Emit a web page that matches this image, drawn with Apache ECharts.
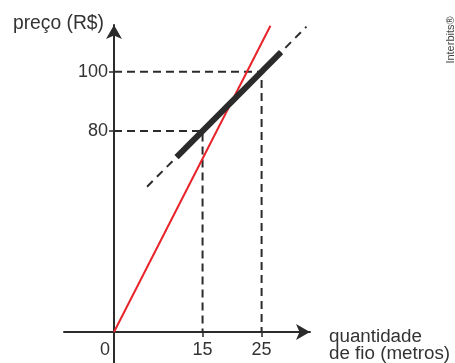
<!DOCTYPE html>
<html><head><meta charset="utf-8">
<script src="https://cdn.jsdelivr.net/npm/echarts@6/dist/echarts.min.js"></script>
<style>html,body{margin:0;padding:0;background:#fff}#c{width:455px;height:363px}</style>
</head><body><div id="c"></div>
<script>
// tick / label values
const xTickValues = [15, 25];
const xLabelValues = [0, 15, 25];
const yTickValues = [80, 100];
// series (quantidade, preço)
const redLine = [[0, 0], [26.5, 115.5]];
const blackSolid = [[10.6, 71.2], [28.3, 106.6]];
const blackDashed = [[5.6, 61.2], [32.6, 115.2]];
const guide100 = [[0, 100], [25, 100], [25, 0]];
const guide80 = [[0, 80], [15, 80], [15, 0]];

const FONT = '"Liberation Sans", Arial, sans-serif';
const TXT = '#333';
const AX = '#2b2b2b';

const chart = echarts.init(document.getElementById('c'), null, {renderer: 'canvas'});
chart.setOption({
  animation: false,
  backgroundColor: '#fff',
  grid: [
    // grid 0: axis lines crossing at the origin (extending beyond it)
    {left: 64, right: 145, top: 25, bottom: 0, containLabel: false, outerBoundsMode: 'none'},
    // grid 1: data area, origin at bottom-left
    {left: 114, right: 145, top: 25, bottom: 31, containLabel: false, outerBoundsMode: 'none'}
  ],
  xAxis: [{
    gridIndex: 0, type: 'value', min: -50, max: 196,
    splitLine: {show: false}, axisTick: {show: false}, axisLabel: {show: false},
    axisLine: {onZero: true, symbol: ['none', 'arrow'], symbolSize: [12, 14], lineStyle: {color: AX, width: 2}}
  }, {
    gridIndex: 1, type: 'value', min: 0, max: 33.2,
    name: '{a|quantidade}\n{b|de fio (metros)}', nameLocation: 'end', nameGap: 19, nameMoveOverlap: false,
    nameTextStyle: {
      fontFamily: FONT, fontSize: 18.8, color: TXT, align: 'left', verticalAlign: 'top',
      rich: {
        a: {fontFamily: FONT, fontSize: 18.8, color: TXT, lineHeight: 10},
        b: {fontFamily: FONT, fontSize: 18.8, color: TXT, lineHeight: 24}
      }
    },
    splitLine: {show: false},
    axisLine: {show: false, onZero: false},
    axisTick: {show: true, customValues: xTickValues, length: 5, lineStyle: {color: AX, width: 1.5}},
    axisLabel: {
      customValues: xLabelValues, margin: 9, fontFamily: FONT, fontSize: 18, color: TXT,
      formatter: v => v === 0 ? '{z|0}' : String(v),
      rich: {z: {fontFamily: FONT, fontSize: 18, color: TXT, padding: [0, 18, 0, 0]}}
    }
  }],
  yAxis: [{
    gridIndex: 0, type: 'value', min: -31, max: 307,
    splitLine: {show: false}, axisTick: {show: false}, axisLabel: {show: false},
    axisLine: {onZero: true, symbol: ['none', 'arrow'], symbolSize: [12, 14], lineStyle: {color: AX, width: 2}}
  }, {
    gridIndex: 1, type: 'value', min: 0, max: 115.75,
    breaks: [{start: 20, end: 32.2, gap: 0}],
    breakArea: {show: false},
    name: 'preço (R$)', nameLocation: 'end', nameGap: 1, nameMoveOverlap: false,
    nameTextStyle: {fontFamily: FONT, fontSize: 19.3, color: TXT, align: 'right', verticalAlign: 'middle', padding: [0, 10, 0, 0]},
    splitLine: {show: false},
    axisLine: {show: false, onZero: false},
    axisTick: {show: true, customValues: yTickValues, length: 5, lineStyle: {color: AX, width: 1.5}},
    axisLabel: {customValues: yTickValues, margin: 6, fontFamily: FONT, fontSize: 18, color: TXT}
  }],
  series: [
    {type: 'line', xAxisIndex: 1, yAxisIndex: 1, data: guide100, symbol: 'none', silent: true, z: 2,
     lineStyle: {color: AX, width: 2, type: [8, 5]}},
    {type: 'line', xAxisIndex: 1, yAxisIndex: 1, data: guide80, symbol: 'none', silent: true, z: 2,
     lineStyle: {color: AX, width: 2, type: [8, 5]}},
    {type: 'line', xAxisIndex: 1, yAxisIndex: 1, data: redLine, symbol: 'none', silent: true, z: 3,
     lineStyle: {color: '#e8232a', width: 2}},
    {type: 'line', xAxisIndex: 1, yAxisIndex: 1, data: blackDashed, symbol: 'none', silent: true, z: 4,
     lineStyle: {color: AX, width: 2, type: [8, 6]}},
    {type: 'line', xAxisIndex: 1, yAxisIndex: 1, data: blackSolid, symbol: 'none', silent: true, z: 5,
     lineStyle: {color: AX, width: 6, cap: 'butt'}}
  ],
  graphic: [{
    type: 'text', x: 451, y: 40, rotation: Math.PI / 2,
    style: {text: 'Interbits®', fontFamily: FONT, fontSize: 11, fill: '#444', align: 'center', verticalAlign: 'middle'}
  }]
});
</script></body></html>
